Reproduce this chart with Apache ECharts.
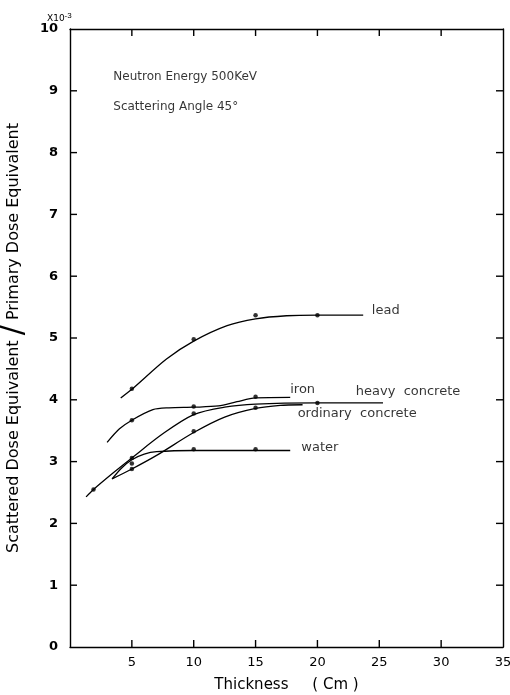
<!DOCTYPE html>
<html>
<head>
<meta charset="utf-8">
<script src="https://cdn.jsdelivr.net/npm/echarts@6/dist/echarts.min.js"></script>
<style>
html,body{margin:0;padding:0;background:#fff;}
#chart{width:510px;height:695px;}
</style>
</head>
<body>
<div id="chart"></div>
<script>
// ---- data (x: thickness cm, y: ratio x10^-3) ----
const xTicks = [0, 5, 10, 15, 20, 25, 30, 35];
const yTicks = [0, 1, 2, 3, 4, 5, 6, 7, 8, 9, 10];

const leadCurve = [[4.1,4.03],[5,4.17],[7.8,4.66],[10,4.95],[12.7,5.2],[15,5.31],[17.5,5.36],[20,5.37],[23.7,5.37]];
const leadPoints = [[5,4.18],[10,4.98],[15,5.37],[20,5.37]];

const ironCurve = [[3.0,3.31],[4,3.53],[5,3.67],[6.7,3.84],[8,3.87],[10,3.88],[12,3.9],[13.5,3.97],[15,4.03],[17.8,4.04]];
const ironPoints = [[5,3.67],[10,3.89],[15,4.05]];

const heavyCurve = [[1.3,2.43],[1.9,2.55],[3.5,2.82],[5,3.06],[7.5,3.45],[10,3.76],[12.5,3.88],[15,3.93],[20,3.95],[25.3,3.95]];
const heavyPoints = [[1.9,2.55],[5,3.06],[10,3.78],[20,3.95]];

const ordinaryCurve = [[3.4,2.72],[5,2.88],[7,3.1],[10,3.47],[12.5,3.72],[15,3.86],[17,3.91],[18.8,3.92]];
const ordinaryPoints = [[5,2.88],[10,3.49],[15,3.87]];

const waterCurve = [[3.4,2.72],[4.2,2.9],[5,3.03],[6,3.12],[7,3.16],[10,3.18],[15,3.18],[17.8,3.18]];
const waterPoints = [[5,2.97],[10,3.2],[15,3.2]];

const curveLabels = [
  [24.4, 5.44, 'lead'],
  [17.8, 4.16, 'iron'],
  [23.1, 4.13, 'heavy  concrete'],
  [18.4, 3.77, 'ordinary  concrete'],
  [18.7, 3.22, 'water']
];
const infoLabels = [
  [3.5, 9.22, 'Neutron Energy 500KeV'],
  [3.5, 8.74, 'Scattering Angle 45°']
];

// ---- chart ----
const FONT = 'DejaVu Sans';
const chart = echarts.init(document.getElementById('chart'));
const X0 = xTicks[0], X1 = xTicks[xTicks.length-1];
const Y0 = yTicks[0], Y1 = yTicks[yTicks.length-1];
function curve(name, d){
  return {type:'line', name:name, data:d, smooth:0.3, showSymbol:false, symbol:'none',
          lineStyle:{color:'#000', width:1.3}, silent:true, z:2};
}
function pts(name, d){
  return {type:'scatter', name:name+' pts', data:d, symbol:'circle', symbolSize:4.5,
          itemStyle:{color:'#000'}, silent:true, z:3};
}
function labels(d, size){
  return {type:'scatter', data:d.map(r=>({value:[r[0],r[1]], name:r[2]})), symbolSize:0,
          silent:true, z:4,
          label:{show:true, position:'right', distance:0, formatter:p=>p.name,
                 fontFamily:FONT, fontSize:size, color:'#000'}};
}
// inward tick marks at the tick values, positioned through the axis scales
function ticks(d, dx, dy){
  return {type:'custom', data:d, silent:true, clip:false, z:6,
    encode:{x:0, y:1},
    renderItem:function(params, api){
      const p = api.coord([api.value(0), api.value(1)]);
      return {type:'line', shape:{x1:p[0], y1:p[1], x2:p[0]+dx, y2:p[1]+dy},
              style:{stroke:'#000', lineWidth:1.4}};
    }};
}
const inner = a => a.slice(1, -1);
function aLine(){ return {show:true, onZero:false, lineStyle:{color:'#000', width:1.4}}; }

chart.setOption({
  animation:false,
  backgroundColor:'#fff',
  grid:{left:70, right:7, top:29, bottom:48, containLabel:false, outerBoundsMode:'none'},
  xAxis:[
    {type:'value', min:X0, max:X1, interval:5, position:'bottom',
     axisLine:aLine(), axisTick:{show:false}, splitLine:{show:false},
     axisLabel:{show:true, formatter:v=>v===0?'':String(v), fontFamily:FONT, fontSize:13, color:'#000', margin:9},
     name:'Thickness     ( Cm )', nameLocation:'middle', nameGap:31,
     nameTextStyle:{fontFamily:FONT, fontSize:15, color:'#000'}},
    {type:'value', min:X0, max:X1, interval:5, position:'top',
     axisLine:aLine(), axisTick:{show:false}, splitLine:{show:false}, axisLabel:{show:false}}
  ],
  yAxis:[
    {type:'value', min:Y0, max:Y1, interval:1, position:'left',
     axisLine:aLine(), axisTick:{show:false}, splitLine:{show:false},
     axisLabel:{show:true, fontFamily:FONT, fontSize:13, fontWeight:'bold', color:'#000', margin:12},
     name:'Scattered Dose Equivalent {s|/} Primary Dose Equivalent', nameLocation:'middle', nameGap:17,
     nameRotate:90,
     nameTextStyle:{fontFamily:FONT, fontSize:16, color:'#000',
       rich:{s:{fontSize:30, fontFamily:FONT, color:'#000'}}}},
    {type:'value', min:Y0, max:Y1, interval:1, position:'right',
     axisLine:aLine(), axisTick:{show:false}, splitLine:{show:false}, axisLabel:{show:false}}
  ],
  graphic:[
    {type:'text', left:47, top:12,
     style:{text:'X10{s|-3}', rich:{s:{fontSize:8, verticalAlign:'top', padding:[0,0,6,0]}},
            fontFamily:FONT, fontSize:9, fill:'#000'}}
  ],
  series:[
    ticks(inner(xTicks).map(v=>[v, Y0]), 0, -7),
    ticks(inner(xTicks).map(v=>[v, Y1]), 0, 7),
    ticks(inner(yTicks).map(v=>[X0, v]), 7, 0),
    ticks(inner(yTicks).map(v=>[X1, v]), -7, 0),
    curve('lead', leadCurve), pts('lead', leadPoints),
    curve('iron', ironCurve), pts('iron', ironPoints),
    curve('heavy concrete', heavyCurve), pts('heavy concrete', heavyPoints),
    curve('ordinary concrete', ordinaryCurve), pts('ordinary concrete', ordinaryPoints),
    curve('water', waterCurve), pts('water', waterPoints),
    labels(curveLabels, 13),
    labels(infoLabels, 12)
  ]
});
</script>
</body>
</html>
